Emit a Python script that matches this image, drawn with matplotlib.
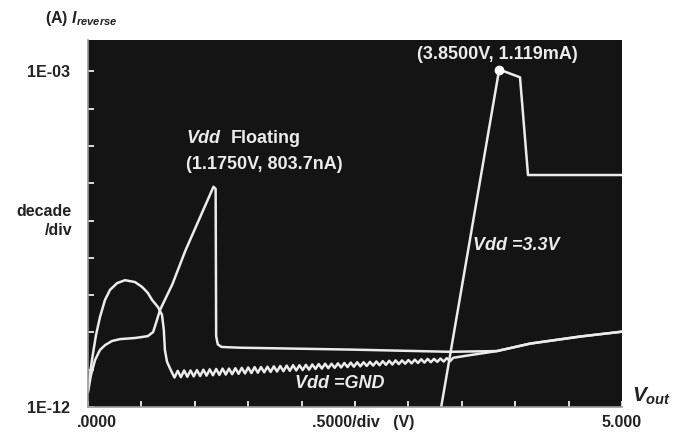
import matplotlib
matplotlib.use("Agg")
import matplotlib.pyplot as plt

plt.rcParams['font.family'] = ['Liberation Sans', 'DejaVu Sans']
plt.rcParams['font.weight'] = 'bold'
plt.rcParams['mathtext.fontset'] = 'custom'
plt.rcParams['mathtext.it'] = 'Liberation Sans:italic:bold'
plt.rcParams['mathtext.rm'] = 'Liberation Sans:bold'
plt.rcParams['mathtext.bf'] = 'Liberation Sans:bold'

# Vdd floating trace (V, log10 A)
flt_v = [0.0, 0.028, 0.066, 0.112, 0.16, 0.225, 0.30, 0.44, 0.56, 0.61, 0.64, 0.674, 0.79, 0.91,
         1.175, 1.195, 1.20, 1.215, 1.25, 1.42, 2.45, 3.39, 3.83, 4.14, 4.61, 5.0]
flt_log = [-11.60, -11.14, -10.74, -10.47, -10.34, -10.23, -10.18, -10.15, -10.10, -9.99, -9.72, -9.40, -8.71, -7.82,
           -6.095, -6.15, -10.10, -10.32, -10.39, -10.41, -10.46, -10.52, -10.50, -10.30, -10.11, -9.98]

# Vdd = GND trace: hump, then the noisy floor, then the common tail
gnd_v = [0.0, 0.037, 0.075, 0.112, 0.159, 0.206, 0.272, 0.346, 0.44, 0.506, 0.56, 0.60, 0.655,
         0.693, 0.71, 0.72, 0.74,
         0.78, 0.81, 0.84, 0.87, 0.90, 0.93, 0.96, 0.99, 1.02, 1.05,
         1.08, 1.11, 1.14, 1.17, 1.20, 1.23, 1.26, 1.29, 1.32, 1.35,
         1.38, 1.41, 1.44, 1.47, 1.50, 1.53, 1.56, 1.59, 1.62, 1.65,
         1.68, 1.71, 1.74, 1.77, 1.80, 1.83, 1.86, 1.89, 1.92, 1.95,
         1.98, 2.01, 2.04, 2.07, 2.10, 2.13, 2.16, 2.19, 2.22, 2.25,
         2.28, 2.31, 2.34, 2.37, 2.40, 2.43, 2.46, 2.49, 2.52, 2.55,
         2.58, 2.61, 2.64, 2.67, 2.70, 2.73, 2.76, 2.79, 2.82, 2.85,
         2.88, 2.91, 2.94, 2.97, 3.00, 3.03, 3.06, 3.09, 3.12, 3.15,
         3.18, 3.21, 3.24, 3.27, 3.30, 3.33, 3.36, 3.39, 3.42,
         3.60, 3.83, 4.14, 4.61, 5.0]
gnd_log = [-11.54, -10.74, -10.07, -9.59, -9.13, -8.86, -8.68, -8.60, -8.65, -8.78, -8.94, -9.13, -9.32,
           -9.53, -9.94, -10.47, -10.79,
           -11.04, -11.21, -11.03, -11.20, -11.02, -11.19, -11.02, -11.18, -11.01, -11.17,
           -11.00, -11.16, -10.99, -11.15, -10.98, -11.14, -10.97, -11.13, -10.97, -11.12,
           -10.96, -11.11, -10.95, -11.10, -10.94, -11.09, -10.93, -11.08, -10.93, -11.07,
           -10.92, -11.06, -10.91, -11.05, -10.90, -11.04, -10.89, -11.03, -10.88, -11.02,
           -10.88, -11.01, -10.87, -11.00, -10.86, -10.98, -10.85, -10.97, -10.84, -10.96,
           -10.84, -10.95, -10.83, -10.94, -10.82, -10.93, -10.81, -10.92, -10.80, -10.91,
           -10.80, -10.90, -10.79, -10.89, -10.78, -10.88, -10.77, -10.87, -10.76, -10.86,
           -10.75, -10.85, -10.75, -10.84, -10.74, -10.83, -10.73, -10.82, -10.72, -10.81,
           -10.71, -10.80, -10.71, -10.79, -10.70, -10.78, -10.69, -10.77, -10.68,
           -10.60, -10.50, -10.30, -10.11, -9.98]

# Vdd = 3.3 V trace
v33_v = [3.295, 3.64, 3.85, 4.045, 4.12, 5.0]
v33_log = [-12.2, -6.45, -2.951, -3.16, -5.78, -5.78]

peak_v, peak_i = 3.85, 1.119e-3
flt_peak_v, flt_peak_i = 1.175, 803.7e-9

fg = '#ebebeb'
txt = '#222222'

fig = plt.figure(figsize=(6.75, 4.37), dpi=100)
ax = fig.add_axes([88/675, 1 - 407/437, 534/675, 367/437])
ax.set_facecolor('#141414')

for vs, ls in [(flt_v, flt_log), (gnd_v, gnd_log), (v33_v, v33_log)]:
    ax.plot(vs, [10 ** l for l in ls], color=fg, lw=1.8, solid_joinstyle='round')
ax.plot([peak_v], [peak_i], 'o', color='white', ms=6)

ax.set_yscale('log')
ax.set_xlim(0, 5)
ax.set_ylim(1e-12, 10 ** -2.16)

ax.set_yticks([10.0 ** e for e in range(-12, -2)])
ax.set_yticklabels(['1E-12'] + [''] * 8 + ['1E-03'])
ax.minorticks_off()
ax.set_xticks([0.5 * k for k in range(11)])
ax.set_xticklabels([])
ax.tick_params(axis='both', direction='in', color='white', length=4, width=1.2)
ax.tick_params(axis='y', labelsize=11.5, labelcolor=txt, pad=13)

for s in ['top', 'right']:
    ax.spines[s].set_visible(False)
for s in ['left', 'bottom']:
    ax.spines[s].set_color('#9a9a9a')
    ax.spines[s].set_linewidth(1.2)

# outside labels
ax.text(-0.02, -0.042, '.0000', transform=ax.transAxes, ha='left', va='center', fontsize=11.5, color=txt)
ax.text(0.515, -0.042, '.5000/div   (V)', transform=ax.transAxes, ha='center', va='center', fontsize=11.5, color=txt)
ax.text(1.0, -0.042, '5.000', transform=ax.transAxes, ha='center', va='center', fontsize=11.5, color=txt)
ax.text(1.018, 0.03, r'$V_{out}$', transform=ax.transAxes, ha='left', va='center', fontsize=15, color=txt)
ax.text(-0.03, 0.507, 'decade\n/div', transform=ax.transAxes, ha='right', va='center',
        multialignment='right', fontsize=11.5, color=txt, linespacing=1.35)
fig.text(45/675, 1 - 18/437, r'(A) $I_{reverse}$', ha='left', va='center', fontsize=11.5, color=txt)

# annotations inside the plot
ax.text(0.92, 10 ** -4.81, 'Vdd', style='italic', fontsize=13, color=fg, va='center')
ax.text(1.34, 10 ** -4.81, 'Floating', fontsize=13, color=fg, va='center')
ax.text(0.92, 10 ** -5.51, '(%.4fV, %.1fnA)' % (flt_peak_v, flt_peak_i * 1e9), fontsize=13, color=fg, va='center')
ax.text(3.08, 10 ** -2.56, '(%.4fV, %.3fmA)' % (peak_v, peak_i * 1e3), fontsize=13, color=fg, va='center')
ax.text(3.605, 10 ** -7.66, 'Vdd =3.3V', style='italic', fontsize=13, color=fg, va='center')
ax.text(1.94, 10 ** -11.38, 'Vdd =GND', style='italic', fontsize=13, color=fg, va='center')

fig.savefig('out.png', dpi=100)
